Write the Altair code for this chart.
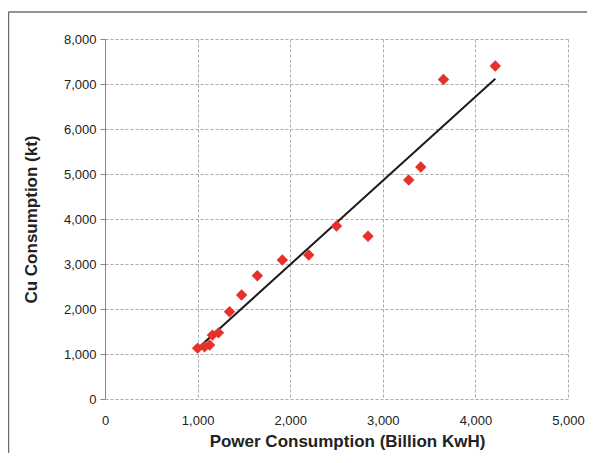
import altair as alt
import pandas as pd

power = [1000, 1075, 1130, 1160, 1225, 1345, 1475, 1645, 1915, 2200, 2500, 2840, 3280, 3410, 3655, 4215]
copper = [1130, 1160, 1200, 1420, 1470, 1940, 2310, 2740, 3090, 3200, 3845, 3615, 4865, 5155, 7100, 7400]

df = pd.DataFrame({"power": power, "copper": copper})

W, H = 463, 360
PAD_L, PAD_T, PAD_R, PAD_B = 97, 31, 19, 54

xs = alt.Scale(domain=[0, 5000], nice=False)
ys = alt.Scale(domain=[0, 8000], nice=False)

base = alt.Chart(df)

points = base.mark_point(shape="diamond", filled=True, size=130, color="#E8302A", opacity=1).encode(
    x=alt.X("power:Q", scale=xs,
            axis=alt.Axis(title="Power Consumption (Billion KwH)", values=[0, 1000, 2000, 3000, 4000, 5000],
                          format=",d", domain=False, ticks=False, labelPadding=15, titlePadding=6,
                          labelFlush=False, grid=True, titleX=242, titleAlign="center")),
    y=alt.Y("copper:Q", scale=ys,
            axis=alt.Axis(title="Cu Consumption (kt)", values=list(range(0, 8001, 1000)),
                          format=",d", domain=True, ticks=True, tickSize=5, labelPadding=4,
                          labelFlush=False, titlePadding=23, grid=True)),
)

line = base.transform_regression("power", "copper").mark_line(color="#1a1a1a", strokeWidth=2).encode(
    x=alt.X("power:Q", scale=xs),
    y=alt.Y("copper:Q", scale=ys),
)

frame_top = alt.Chart(pd.DataFrame({"a": [0]})).mark_rule(color="#6e6e6e", strokeWidth=1.5).encode(
    x=alt.value(-PAD_L + 0.5), x2=alt.value(W + PAD_R + 5), y=alt.value(-PAD_T + 4)
)
frame_left = alt.Chart(pd.DataFrame({"a": [0]})).mark_rule(color="#6e6e6e", strokeWidth=1.5).encode(
    x=alt.value(-PAD_L + 0.5), y=alt.value(-PAD_T + 4), y2=alt.value(H + PAD_B + 5)
)

chart = alt.layer(line, points, frame_top, frame_left).properties(
    width=W, height=H,
    autosize=alt.AutoSizeParams(type="none"),
    padding={"left": PAD_L, "top": PAD_T, "right": PAD_R, "bottom": PAD_B},
).configure_view(stroke=None).configure_axis(
    labelFont="Liberation Sans", labelFontSize=13, labelColor="#222",
    titleFont="Liberation Sans", titleFontSize=17, titleFontWeight="bold", titleColor="#222",
    gridColor="#aaaaaa", gridDash=[3, 2], gridWidth=1,
    domainColor="#888", tickColor="#888",
)

chart.save("out.html", embed_options={"renderer": "svg", "actions": False})
